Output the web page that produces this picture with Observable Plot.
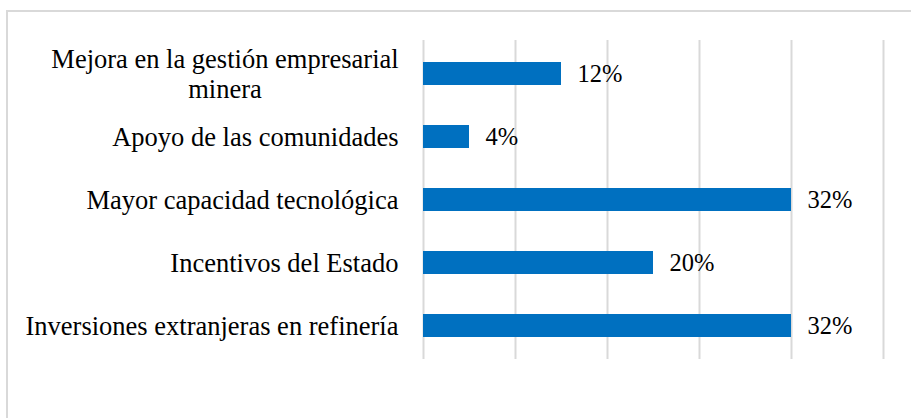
<!DOCTYPE html>
<html>
<head>
<meta charset="utf-8">
<script src="https://cdn.jsdelivr.net/npm/d3@7"></script>
<script src="https://cdn.jsdelivr.net/npm/@observablehq/plot@0.6"></script>
<style>
  html, body { margin: 0; padding: 0; background: #fff; overflow: hidden; }
  #wrap { position: relative; width: 911px; height: 418px; overflow: hidden; }
  #frame { position: absolute; left: 6px; top: 10px; width: 1200px; height: 1000px;
           border: 2px solid #d9d9d9; box-sizing: border-box; }
  #chart { position: absolute; left: 0; top: 0; }
</style>
</head>
<body>
<div id="wrap"><div id="frame"></div><div id="chart"></div></div>
<script>
const categories = [
  "Mejora en la gestión empresarial\nminera",
  "Apoyo de las comunidades",
  "Mayor capacidad tecnológica",
  "Incentivos del Estado",
  "Inversiones extranjeras en refinería"
];
const values = [12, 4, 32, 20, 32];
const gridTicks = [0, 8, 16, 24, 32, 40];
const xDomain = [0, 40];

const data = categories.map((c, i) => ({category: c, value: values[i]}));
const FONT = "'Liberation Serif', 'Times New Roman', serif";

const chart = Plot.plot({
  width: 911,
  height: 418,
  marginLeft: 423,
  marginRight: 28,
  marginTop: 40,
  marginBottom: 59,
  style: {background: "transparent", color: "#000", fontFamily: FONT},
  x: {domain: xDomain, axis: null},
  y: {domain: categories, paddingInner: 0.64, paddingOuter: 0.32, label: null},
  marks: [
    Plot.ruleX(gridTicks, {stroke: "#d9d9d9", strokeWidth: 2, strokeOpacity: 1}),
    Plot.barX(data, {y: "category", x: "value", fill: "#0070C0"}),
    Plot.text(data, {y: "category", x: "value", text: d => d.value + "%", textAnchor: "start", dx: 16, fill: "#000", fontSize: 24.5, fontFamily: FONT}),
    Plot.axisY({tickSize: 0, tickPadding: 25, fontSize: 26.5, lineHeight: 1.1, fontFamily: FONT, label: null, fill: "#000"})
  ]
});
document.getElementById("chart").appendChild(chart);

// center the wrapped category label lines horizontally and the block vertically (Excel style)
chart.querySelectorAll("text").forEach(t => {
  const spans = t.querySelectorAll("tspan");
  if (spans.length > 1) {
    const bb = t.getBBox();
    const cx = bb.x + bb.width / 2;
    t.setAttribute("text-anchor", "middle");
    spans.forEach(s => s.setAttribute("x", cx));
    const cy = bb.y + bb.height / 2;
    const tr = t.getAttribute("transform") || "";
    t.setAttribute("transform", tr + ` translate(0,${-cy})`);
  }
});
</script>
</body>
</html>
